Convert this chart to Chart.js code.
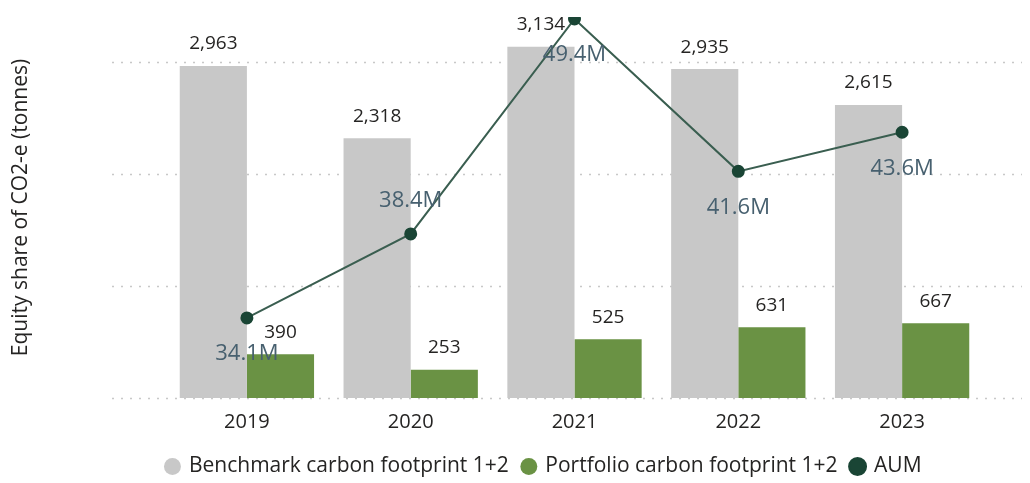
<!DOCTYPE html>
<html>
<head>
<meta charset="utf-8">
<script src="https://cdn.jsdelivr.net/npm/chart.js@4/dist/chart.umd.min.js"></script>
<style>
  html, body { margin: 0; padding: 0; background: #fff; }
  #wrap { width: 1030px; height: 483px; }
</style>
</head>
<body>
<div id="wrap"><canvas id="chart"></canvas></div>
<script>
// data
const years = ['2019', '2020', '2021', '2022', '2023'];
const benchmark = [2963, 2318, 3134, 2935, 2615];
const portfolio = [390, 253, 525, 631, 667];
const aum = [34.1, 38.4, 49.4, 41.6, 43.6];   // millions
const gridValues = [0, 1000, 2000, 3000];
const aumLabelAbove = [false, true, false, false, false];

const FONT = '"Open Sans", "DejaVu Sans", sans-serif';

// dotted gridlines that run wider than the plot area (like the original)
const wideGrid = {
  id: 'wideGrid',
  beforeDatasetsDraw(chart) {
    const ctx = chart.ctx;
    const y = chart.scales.y;
    ctx.save();
    ctx.strokeStyle = '#c8c8c8';
    ctx.lineWidth = 1.5;
    ctx.setLineDash([2, 7]);
    gridValues.forEach(v => {
      const py = Math.round(y.getPixelForValue(v)) + 0.5;
      ctx.beginPath();
      ctx.moveTo(112, py);
      ctx.lineTo(1022, py);
      ctx.stroke();
    });
    ctx.restore();
  }
};

// nudge the legend right and down, as in the original
const legendShift = {
  id: 'legendShift',
  afterLayout(chart) {
    chart.legend.left += 52;
    chart.legend.right += 52;
    chart.legend.top += 4;
    chart.legend.bottom += 4;
  }
};

// value labels
const valueLabels = {
  id: 'valueLabels',
  afterDatasetsDraw(chart) {
    const ctx = chart.ctx;
    ctx.save();
    ctx.textAlign = 'center';
    ctx.textBaseline = 'middle';
    chart.data.datasets.forEach((ds, di) => {
      const meta = chart.getDatasetMeta(di);
      meta.data.forEach((el, i) => {
        const v = ds.data[i];
        if (ds.type === 'line') {
          ctx.font = '22px ' + FONT;
          ctx.fillStyle = '#47606f';
          const dy = aumLabelAbove[i] ? -33 : 36;
          ctx.fillText(v.toFixed(1) + 'M', el.x, el.y + dy);
        } else {
          ctx.font = '19px ' + FONT;
          ctx.fillStyle = '#252423';
          ctx.fillText(v.toLocaleString('en-US'), el.x, el.y - 22);
        }
      });
    });
    ctx.restore();
  }
};

new Chart(document.getElementById('chart'), {
  data: {
    labels: years,
    datasets: [
      {
        type: 'bar',
        label: 'Benchmark carbon footprint 1+2',
        data: benchmark,
        backgroundColor: '#c8c8c8',
        categoryPercentage: 0.82,
        barPercentage: 1.0,
        order: 1
      },
      {
        type: 'bar',
        label: 'Portfolio carbon footprint 1+2',
        data: portfolio,
        backgroundColor: '#6a9244',
        categoryPercentage: 0.82,
        barPercentage: 1.0,
        order: 2
      },
      {
        type: 'line',
        label: 'AUM',
        data: aum,
        yAxisID: 'y2',
        borderColor: '#3a5e50',
        borderWidth: 2,
        backgroundColor: '#1a4535',
        pointBackgroundColor: '#1a4535',
        pointBorderColor: '#1a4535',
        pointRadius: 5.5,
        pointHoverRadius: 5.5,
        tension: 0,
        order: 0
      }
    ]
  },
  options: {
    responsive: true,
    maintainAspectRatio: false,
    animation: false,
    layout: { padding: { top: 17, right: 46, left: 0, bottom: 0 } },
    plugins: {
      legend: {
        position: 'bottom',
        labels: {
          usePointStyle: true,
          pointStyle: 'circle',
          boxWidth: 12,
          boxHeight: 12,
          padding: 14,
          color: '#252423',
          font: { family: FONT, size: 21 },
          sort: (a, b) => a.datasetIndex - b.datasetIndex
        }
      },
      tooltip: { enabled: false }
    },
    scales: {
      x: {
        grid: { display: false, drawTicks: false },
        border: { display: false },
        ticks: { color: '#252423', font: { family: FONT, size: 20 }, padding: 12 },
        afterFit: s => { s.height = 40; }
      },
      y: {
        min: 0,
        max: 3400,
        ticks: { display: false },
        grid: { display: false },
        border: { display: false },
        title: {
          display: true,
          text: 'Equity share of CO2-e (tonnes)',
          color: '#252423',
          font: { family: FONT, size: 21 },
          padding: { top: 8, bottom: 0 }
        },
        afterFit: s => { s.width = 165; }
      },
      y2: {
        display: false,
        min: 30,
        max: 49.5
      }
    }
  },
  plugins: [wideGrid, legendShift, valueLabels]
});
</script>
</body>
</html>
